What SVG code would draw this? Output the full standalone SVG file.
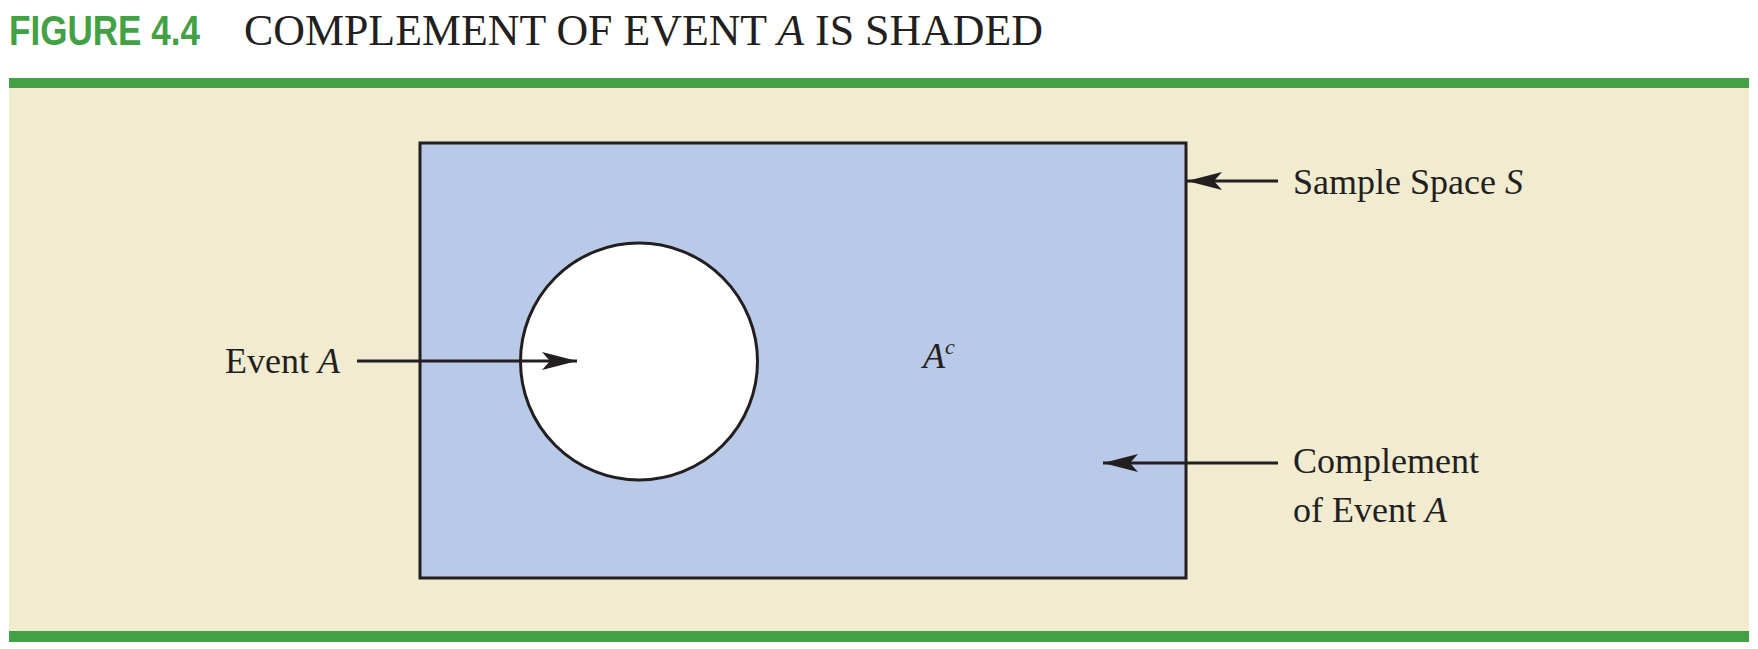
<svg xmlns="http://www.w3.org/2000/svg" width="1758" height="649" viewBox="0 0 1758 649">
<defs>
<style>
.bar{fill:#42a045}
.lbl{font-family:"Liberation Serif","Times New Roman",serif;font-size:36px;fill:#231f20}
.it{font-style:italic}
.ln{stroke:#231f20;stroke-width:3;fill:none}
</style>
<marker id="ah" markerUnits="userSpaceOnUse" markerWidth="40" markerHeight="24" viewBox="-36 -12 40 24" refX="0" refY="0" orient="auto">
<path d="M0,0 L-35,-9 L-27,0 L-35,9 Z" fill="#231f20"/>
</marker>
</defs>
<rect width="1758" height="649" fill="#ffffff"/>
<g id="title">
<text x="9" y="45" font-family="'Liberation Sans',Arial,sans-serif" font-weight="bold" font-size="42" fill="#42a045" textLength="191" lengthAdjust="spacingAndGlyphs">FIGURE 4.4</text>
<text x="244" y="45" font-family="'Liberation Serif','Times New Roman',serif" font-size="44" fill="#231f20" textLength="799" lengthAdjust="spacingAndGlyphs">COMPLEMENT OF EVENT <tspan font-style="italic">A</tspan> IS SHADED</text>
</g>
<g id="panel">
<rect class="bar" x="9" y="78" width="1740" height="10"/>
<rect x="9" y="88" width="1740" height="543" fill="#f1ebd0"/>
<rect class="bar" x="9" y="631" width="1740" height="11"/>
</g>
<g id="sample-space">
<rect x="420" y="143" width="766" height="435" fill="#b9c9e8" stroke="#231f20" stroke-width="3"/>
</g>
<g id="event-a">
<circle cx="639" cy="361.5" r="118.5" fill="#ffffff" stroke="#231f20" stroke-width="3"/>
</g>
<g id="complement-label">
<text class="lbl" x="923" y="368"><tspan class="it">A</tspan><tspan class="it" font-size="22" dy="-14">c</tspan></text>
</g>
<g id="connectors">
<line class="ln" x1="357" y1="361" x2="577" y2="361" marker-end="url(#ah)"/>
<line class="ln" x1="1278" y1="181" x2="1187" y2="181" marker-end="url(#ah)"/>
<line class="ln" x1="1278" y1="463" x2="1103" y2="463" marker-end="url(#ah)"/>
</g>
<g id="labels">
<text class="lbl" x="225" y="373">Event <tspan class="it">A</tspan></text>
<text class="lbl" x="1293" y="194">Sample Space <tspan class="it">S</tspan></text>
<text class="lbl" x="1293" y="473">Complement</text>
<text class="lbl" x="1293" y="522">of Event <tspan class="it">A</tspan></text>
</g>
</svg>
